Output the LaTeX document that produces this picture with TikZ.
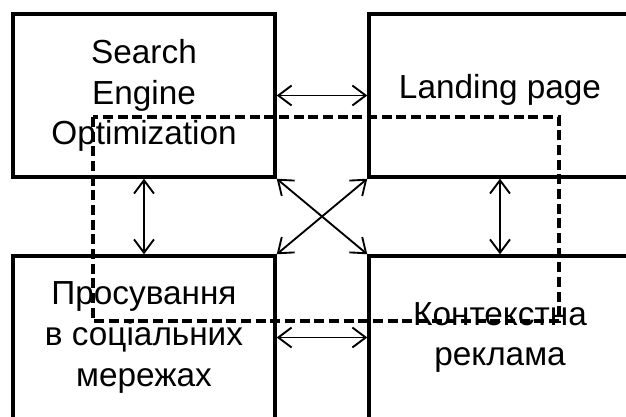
\documentclass[tikz,border=0pt]{standalone}
\usepackage{fontspec}
\setmainfont{Liberation Sans}
\usetikzlibrary{arrows.meta}

\begin{document}
\begin{tikzpicture}[x=0.75pt,y=-0.75pt,
    box/.style={draw,line width=2.6pt,minimum width=196.5pt,minimum height=122.25pt,
      inner sep=0pt,align=center,font=\fontsize{25}{30.5}\selectfont},
    link/.style={{Straight Barb[length=10pt,width=15pt]}-{Straight Barb[length=10pt,width=15pt]},line width=1.4pt}]
    \useasboundingbox (0,0) rectangle (626,417);
    \clip (0,0) rectangle (626,417);
    \node[box] (11) at (144,95.5) {Search\\Engine\\Optimization};
    \node[box] (12) at (500,95.5) {\raisebox{13pt}{Landing page}};
    \node[box] (21) at (144,337.5) {Просування\\в соціальних\\мережах};
    \node[box] (22) at (500,337.5) {Контекстна\\реклама};
    % horizontal lines
    \draw[link] (11.east) -- (12.west);
    \draw[link] (21.east) -- (22.west);
    % vertical lines
    \draw[link] (11.south) -- (21.north);
    \draw[link] (12.south) -- (22.north);
    % diagonal lines
    \draw[link] (11.south east) -- (22.north west);
    \draw[link] (12.south west) -- (21.north east);
    % dashed frame
    \draw[line width=2.4pt,dash pattern=on 7.5pt off 3.5pt] (93,117) rectangle (559,321);
  \end{tikzpicture}
\end{document}
